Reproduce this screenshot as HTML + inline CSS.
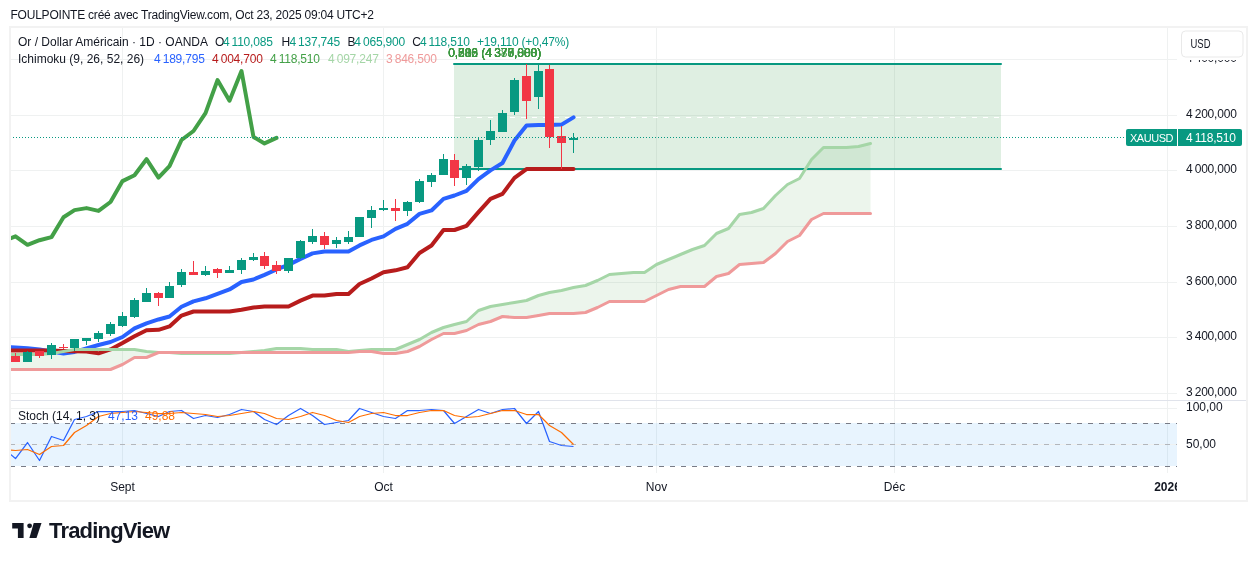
<!DOCTYPE html>
<html><head><meta charset="utf-8"><style>html,body{margin:0;padding:0;background:#fff;width:1257px;height:561px;overflow:hidden}</style></head>
<body><svg width="1257" height="561" viewBox="0 0 1257 561" style="position:absolute;left:0;top:0;will-change:transform"><defs><clipPath id="cm"><rect x="11" y="28" width="1166" height="372"/></clipPath><clipPath id="cs"><rect x="11" y="401" width="1166" height="72"/></clipPath></defs><rect x="10" y="27" width="1237" height="474" fill="none" stroke="#f2f2f2" stroke-width="2"/><rect x="11" y="59" width="1166" height="1" fill="#eff1f1"/><rect x="11" y="115" width="1166" height="1" fill="#eff1f1"/><rect x="11" y="170" width="1166" height="1" fill="#eff1f1"/><rect x="11" y="226" width="1166" height="1" fill="#eff1f1"/><rect x="11" y="282" width="1166" height="1" fill="#eff1f1"/><rect x="11" y="337" width="1166" height="1" fill="#eff1f1"/><rect x="11" y="393" width="1166" height="1" fill="#eff1f1"/><rect x="122" y="28" width="1" height="445" fill="#eff1f1"/><rect x="383" y="28" width="1" height="445" fill="#eff1f1"/><rect x="656" y="28" width="1" height="445" fill="#eff1f1"/><rect x="894" y="28" width="1" height="445" fill="#eff1f1"/><rect x="1167" y="28" width="1" height="445" fill="#eff1f1"/><rect x="11" y="400" width="1235" height="1" fill="#e0e3eb"/><rect x="11" y="408" width="1166" height="1" fill="#eff1f1"/><rect x="11" y="423" width="1166" height="43" fill="#2196f3" fill-opacity="0.1"/><rect x="11" y="444" width="1166" height="1" fill="#eff1f1"/><g clip-path="url(#cs)"><line x1="10" y1="423.5" x2="1177" y2="423.5" stroke="#787b86" stroke-opacity="1" stroke-width="1" stroke-dasharray="5 6"/><line x1="10" y1="444.5" x2="1177" y2="444.5" stroke="#787b86" stroke-opacity="0.5" stroke-width="1" stroke-dasharray="5 6"/><line x1="10" y1="466.5" x2="1177" y2="466.5" stroke="#787b86" stroke-opacity="1" stroke-width="1" stroke-dasharray="5 6"/><polyline points="3.50,448.50 15.50,458.50 27.50,442.50 39.50,460.50 51.50,436.50 63.50,440.50 74.50,419.50 86.50,416.50 98.50,411.50 110.50,411.50 122.50,411.50 134.50,410.50 146.50,413.50 158.50,416.50 169.50,411.50 181.50,410.50 193.50,418.50 205.50,415.50 217.50,417.50 229.50,414.50 241.50,409.50 253.50,411.50 264.50,419.50 276.50,424.50 288.50,415.50 300.50,408.50 312.50,415.50 324.50,424.50 336.50,422.50 348.50,420.50 359.50,408.50 371.50,412.50 383.50,416.50 395.50,418.50 407.50,410.50 419.50,410.50 431.50,409.50 443.50,410.50 454.50,423.50 466.50,416.50 478.50,409.50 490.50,413.50 502.50,409.50 514.50,408.50 526.50,423.50 538.50,411.50 549.50,441.50 561.50,445.50 573.50,446.50" fill="none" stroke="#2962ff" stroke-width="1.25" stroke-linejoin="round"/><polyline points="3.50,449.50 15.50,450.50 27.50,449.50 39.50,454.50 51.50,446.50 63.50,445.50 74.50,432.50 86.50,425.50 98.50,416.50 110.50,413.50 122.50,412.50 134.50,411.50 146.50,412.50 158.50,413.50 169.50,413.50 181.50,412.50 193.50,413.50 205.50,414.50 217.50,416.50 229.50,415.50 241.50,413.50 253.50,411.50 264.50,413.50 276.50,418.50 288.50,419.50 300.50,416.50 312.50,412.50 324.50,415.50 336.50,420.50 348.50,422.50 359.50,416.50 371.50,413.50 383.50,412.50 395.50,415.50 407.50,415.50 419.50,412.50 431.50,410.50 443.50,410.50 454.50,415.50 466.50,417.50 478.50,416.50 490.50,413.50 502.50,410.50 514.50,410.50 526.50,414.50 538.50,414.50 549.50,425.50 561.50,432.50 573.50,444.50" fill="none" stroke="#ff6d00" stroke-width="1.25" stroke-linejoin="round"/></g><g clip-path="url(#cm)"><polygon points="3.50,354.50 15.50,354.50 27.50,354.50 39.50,354.40 51.50,353.50 63.50,351.50 74.50,349.20 86.50,349.20 98.50,349.20 110.50,349.20 122.50,349.20 134.50,349.20 146.50,351.90 158.50,352.00 169.50,352.00 181.50,353.40 193.50,353.50 205.50,353.50 217.50,353.50 229.50,353.30 241.50,352.20 253.50,351.50 264.50,350.40 276.50,348.00 288.50,348.10 300.50,348.60 312.50,349.00 324.50,349.20 336.50,349.50 348.50,351.30 359.50,350.50 371.50,349.80 383.50,349.50 395.50,349.00 407.50,344.60 419.50,339.70 431.50,332.40 443.50,327.30 454.50,324.30 466.50,321.10 478.50,310.70 490.50,306.10 502.50,304.50 514.50,302.40 526.50,300.20 538.50,295.30 549.50,292.50 561.50,290.10 573.50,287.50 585.50,285.80 597.50,280.00 609.50,274.48 621.50,273.50 633.50,272.67 644.50,272.67 656.50,264.68 668.50,259.23 680.50,254.28 692.50,249.60 704.50,245.55 716.50,233.47 728.50,228.00 739.50,214.45 751.50,212.75 763.50,208.40 775.50,195.57 787.50,184.58 799.50,178.43 811.50,159.18 823.50,147.28 834.50,147.03 846.50,147.03 858.50,146.82 870.50,143.23 870.50,213.10 858.50,213.10 846.50,213.10 834.50,213.10 823.50,213.10 811.50,219.00 799.50,235.50 787.50,241.50 775.50,253.50 763.50,262.80 751.50,263.60 739.50,264.20 728.50,273.30 716.50,276.40 704.50,286.50 692.50,286.50 680.50,286.90 668.50,289.20 656.50,295.10 644.50,301.20 633.50,301.20 621.50,301.20 609.50,301.20 597.50,307.00 585.50,312.90 573.50,313.00 561.50,313.00 549.50,313.10 538.50,315.90 526.50,317.30 514.50,317.30 502.50,316.90 490.50,321.00 478.50,324.50 466.50,330.40 454.50,333.80 443.50,333.80 431.50,339.70 419.50,346.10 407.50,351.00 395.50,353.20 383.50,353.20 371.50,351.50 359.50,351.00 348.50,352.20 336.50,352.00 324.50,352.00 312.50,352.00 300.50,352.00 288.50,352.00 276.50,352.00 264.50,352.00 253.50,352.00 241.50,352.00 229.50,352.00 217.50,352.00 205.50,352.00 193.50,352.00 181.50,352.00 169.50,352.00 158.50,352.00 146.50,357.30 134.50,357.50 122.50,364.60 110.50,369.30 98.50,369.30 86.50,369.30 74.50,369.30 63.50,369.30 51.50,369.30 39.50,369.30 27.50,369.30 15.50,369.30 3.50,369.30" fill="#43a047" fill-opacity="0.1"/><rect x="454" y="64" width="547" height="105" fill="#5faf6e" fill-opacity="0.2"/><line x1="454" y1="64" x2="1001" y2="64" stroke="#089981" stroke-width="2" stroke-linecap="round"/><line x1="454" y1="169" x2="1001" y2="169" stroke="#089981" stroke-width="2" stroke-linecap="round"/><line x1="455" y1="117.5" x2="1001" y2="117.5" stroke="#ffffff" stroke-width="1" stroke-dasharray="5 6"/><polyline points="3.50,241.00 15.50,236.30 27.50,244.80 39.50,240.20 51.50,237.10 63.50,217.20 74.50,210.10 86.50,208.10 98.50,210.90 110.50,202.00 122.50,181.10 134.50,175.20 146.50,159.20 158.50,177.60 169.50,166.10 181.50,140.00 193.50,131.00 205.50,113.10 217.50,80.10 229.50,100.70 241.50,71.00 253.50,137.00 264.50,143.40 276.50,137.93" fill="none" stroke="#43a047" stroke-width="4" stroke-linejoin="round" stroke-linecap="round"/><polyline points="3.50,347.00 15.50,347.50 27.50,348.30 39.50,349.50 51.50,351.50 63.50,353.40 74.50,351.90 86.50,348.40 98.50,345.00 110.50,342.00 122.50,337.00 134.50,328.35 146.50,323.35 158.50,319.45 169.50,316.45 181.50,306.80 193.50,301.35 205.50,298.30 217.50,293.95 229.50,289.45 241.50,282.00 253.50,279.50 264.50,274.85 276.50,269.45 288.50,264.85 300.50,258.85 312.50,253.40 324.50,251.45 336.50,251.45 348.50,251.45 359.50,245.40 371.50,239.95 383.50,236.35 395.50,228.85 407.50,223.80 419.50,213.90 431.50,210.45 443.50,198.90 454.50,195.50 466.50,190.95 478.50,179.05 490.50,170.35 502.50,163.00 514.50,140.50 526.50,125.50 538.50,125.00 549.50,125.00 561.50,124.60 573.50,117.40" fill="none" stroke="#2962ff" stroke-width="4" stroke-linejoin="round" stroke-linecap="round"/><polyline points="3.50,350.40 15.50,350.40 27.50,350.40 39.50,350.40 51.50,350.60 63.50,351.00 74.50,351.20 86.50,351.40 98.50,353.30 110.50,349.40 122.50,343.00 134.50,336.20 146.50,330.30 158.50,329.80 169.50,326.40 181.50,315.60 193.50,311.50 205.50,311.50 217.50,311.50 229.50,311.50 241.50,309.70 253.50,307.50 264.50,306.50 276.50,306.50 288.50,306.50 300.50,300.60 312.50,295.55 324.50,295.55 336.50,293.90 348.50,293.90 359.50,283.95 371.50,278.50 383.50,272.20 395.50,270.35 407.50,267.30 419.50,253.05 431.50,245.55 443.50,230.00 454.50,230.00 466.50,225.85 478.50,212.10 490.50,198.80 502.50,193.85 514.50,177.85 526.50,169.05 538.50,169.05 549.50,169.05 561.50,169.05 573.50,169.05" fill="none" stroke="#b71c1c" stroke-width="4" stroke-linejoin="round" stroke-linecap="round"/><polyline points="3.50,354.50 15.50,354.50 27.50,354.50 39.50,354.50 51.50,353.50 63.50,351.50 74.50,349.50 86.50,349.50 98.50,349.50 110.50,349.50 122.50,349.50 134.50,349.50 146.50,351.50 158.50,352.50 169.50,352.50 181.50,353.50 193.50,353.50 205.50,353.50 217.50,353.50 229.50,353.50 241.50,352.50 253.50,351.50 264.50,350.50 276.50,348.50 288.50,348.50 300.50,348.50 312.50,349.50 324.50,349.50 336.50,349.50 348.50,351.50 359.50,350.50 371.50,349.50 383.50,349.50 395.50,349.50 407.50,344.50 419.50,339.50 431.50,332.50 443.50,327.50 454.50,324.50 466.50,321.50 478.50,310.50 490.50,306.50 502.50,304.50 514.50,302.50 526.50,300.50 538.50,295.50 549.50,292.50 561.50,290.50 573.50,287.50 585.50,285.50 597.50,280.50 609.50,274.50 621.50,273.50 633.50,272.50 644.50,272.50 656.50,264.50 668.50,259.50 680.50,254.50 692.50,249.50 704.50,245.50 716.50,233.50 728.50,228.50 739.50,214.50 751.50,212.50 763.50,208.50 775.50,195.50 787.50,184.50 799.50,178.50 811.50,159.50 823.50,147.50 834.50,147.50 846.50,147.50 858.50,146.50 870.50,143.50" fill="none" stroke="#a5d6a7" stroke-width="3" stroke-linejoin="round" stroke-linecap="round"/><polyline points="3.50,369.50 15.50,369.50 27.50,369.50 39.50,369.50 51.50,369.50 63.50,369.50 74.50,369.50 86.50,369.50 98.50,369.50 110.50,369.50 122.50,364.50 134.50,357.50 146.50,357.50 158.50,352.50 169.50,352.50 181.50,352.50 193.50,352.50 205.50,352.50 217.50,352.50 229.50,352.50 241.50,352.50 253.50,352.50 264.50,352.50 276.50,352.50 288.50,352.50 300.50,352.50 312.50,352.50 324.50,352.50 336.50,352.50 348.50,352.50 359.50,351.50 371.50,351.50 383.50,353.50 395.50,353.50 407.50,351.50 419.50,346.50 431.50,339.50 443.50,333.50 454.50,333.50 466.50,330.50 478.50,324.50 490.50,321.50 502.50,316.50 514.50,317.50 526.50,317.50 538.50,315.50 549.50,313.50 561.50,313.50 573.50,313.50 585.50,312.50 597.50,307.50 609.50,301.50 621.50,301.50 633.50,301.50 644.50,301.50 656.50,295.50 668.50,289.50 680.50,286.50 692.50,286.50 704.50,286.50 716.50,276.50 728.50,273.50 739.50,264.50 751.50,263.50 763.50,262.50 775.50,253.50 787.50,241.50 799.50,235.50 811.50,219.50 823.50,213.50 834.50,213.50 846.50,213.50 858.50,213.50 870.50,213.50" fill="none" stroke="#ef9a9a" stroke-width="3" stroke-linejoin="round" stroke-linecap="round"/><rect x="15" y="353" width="1" height="9" fill="#f23645"/><rect x="11" y="356" width="9" height="6" fill="#f23645"/><rect x="27" y="351" width="1" height="11" fill="#089981"/><rect x="23" y="352" width="9" height="10" fill="#089981"/><rect x="39" y="351" width="1" height="7" fill="#f23645"/><rect x="35" y="351" width="9" height="5" fill="#f23645"/><rect x="51" y="343" width="1" height="16" fill="#089981"/><rect x="47" y="345" width="9" height="10" fill="#089981"/><rect x="63" y="344" width="1" height="5" fill="#f23645"/><rect x="59" y="347" width="9" height="1" fill="#f23645"/><rect x="74" y="339" width="1" height="12" fill="#089981"/><rect x="70" y="339" width="9" height="9" fill="#089981"/><rect x="86" y="338" width="1" height="7" fill="#089981"/><rect x="82" y="338" width="9" height="3" fill="#089981"/><rect x="98" y="331" width="1" height="11" fill="#089981"/><rect x="94" y="333" width="9" height="6" fill="#089981"/><rect x="110" y="322" width="1" height="14" fill="#089981"/><rect x="106" y="324" width="9" height="10" fill="#089981"/><rect x="122" y="312" width="1" height="15" fill="#089981"/><rect x="118" y="316" width="9" height="10" fill="#089981"/><rect x="134" y="298" width="1" height="20" fill="#089981"/><rect x="130" y="300" width="9" height="17" fill="#089981"/><rect x="146" y="288" width="1" height="14" fill="#089981"/><rect x="142" y="293" width="9" height="9" fill="#089981"/><rect x="158" y="292" width="1" height="14" fill="#f23645"/><rect x="154" y="293" width="9" height="5" fill="#f23645"/><rect x="169" y="282" width="1" height="16" fill="#089981"/><rect x="165" y="286" width="9" height="12" fill="#089981"/><rect x="181" y="269" width="1" height="18" fill="#089981"/><rect x="177" y="272" width="9" height="13" fill="#089981"/><rect x="193" y="261" width="1" height="14" fill="#f23645"/><rect x="189" y="272" width="9" height="3" fill="#f23645"/><rect x="205" y="266" width="1" height="10" fill="#089981"/><rect x="201" y="271" width="9" height="4" fill="#089981"/><rect x="217" y="268" width="1" height="10" fill="#f23645"/><rect x="213" y="269" width="9" height="4" fill="#f23645"/><rect x="229" y="266" width="1" height="7" fill="#089981"/><rect x="225" y="270" width="9" height="3" fill="#089981"/><rect x="241" y="258" width="1" height="16" fill="#089981"/><rect x="237" y="260" width="9" height="10" fill="#089981"/><rect x="253" y="253" width="1" height="8" fill="#089981"/><rect x="249" y="257" width="9" height="3" fill="#089981"/><rect x="264" y="252" width="1" height="17" fill="#f23645"/><rect x="260" y="256" width="9" height="10" fill="#f23645"/><rect x="276" y="261" width="1" height="13" fill="#f23645"/><rect x="272" y="265" width="9" height="6" fill="#f23645"/><rect x="288" y="258" width="1" height="15" fill="#089981"/><rect x="284" y="258" width="9" height="13" fill="#089981"/><rect x="300" y="240" width="1" height="19" fill="#089981"/><rect x="296" y="241" width="9" height="17" fill="#089981"/><rect x="312" y="229" width="1" height="15" fill="#089981"/><rect x="308" y="236" width="9" height="6" fill="#089981"/><rect x="324" y="232" width="1" height="17" fill="#f23645"/><rect x="320" y="236" width="9" height="9" fill="#f23645"/><rect x="336" y="237" width="1" height="11" fill="#089981"/><rect x="332" y="240" width="9" height="4" fill="#089981"/><rect x="348" y="231" width="1" height="13" fill="#089981"/><rect x="344" y="237" width="9" height="5" fill="#089981"/><rect x="359" y="217" width="1" height="20" fill="#089981"/><rect x="355" y="217" width="9" height="20" fill="#089981"/><rect x="371" y="206" width="1" height="22" fill="#089981"/><rect x="367" y="210" width="9" height="8" fill="#089981"/><rect x="383" y="200" width="1" height="11" fill="#089981"/><rect x="379" y="208" width="9" height="2" fill="#089981"/><rect x="395" y="199" width="1" height="22" fill="#f23645"/><rect x="391" y="208" width="9" height="3" fill="#f23645"/><rect x="407" y="201" width="1" height="15" fill="#089981"/><rect x="403" y="202" width="9" height="9" fill="#089981"/><rect x="419" y="179" width="1" height="24" fill="#089981"/><rect x="415" y="181" width="9" height="21" fill="#089981"/><rect x="431" y="173" width="1" height="14" fill="#089981"/><rect x="427" y="175" width="9" height="7" fill="#089981"/><rect x="443" y="154" width="1" height="21" fill="#089981"/><rect x="439" y="159" width="9" height="16" fill="#089981"/><rect x="454" y="154" width="1" height="32" fill="#f23645"/><rect x="450" y="160" width="9" height="18" fill="#f23645"/><rect x="466" y="164" width="1" height="21" fill="#089981"/><rect x="462" y="166" width="9" height="12" fill="#089981"/><rect x="478" y="137" width="1" height="34" fill="#089981"/><rect x="474" y="140" width="9" height="27" fill="#089981"/><rect x="490" y="120" width="1" height="25" fill="#089981"/><rect x="486" y="131" width="9" height="9" fill="#089981"/><rect x="502" y="110" width="1" height="22" fill="#089981"/><rect x="498" y="113" width="9" height="19" fill="#089981"/><rect x="514" y="78" width="1" height="37" fill="#089981"/><rect x="510" y="80" width="9" height="32" fill="#089981"/><rect x="526" y="64" width="1" height="55" fill="#f23645"/><rect x="522" y="76" width="9" height="25" fill="#f23645"/><rect x="538" y="65" width="1" height="44" fill="#089981"/><rect x="534" y="71" width="9" height="26" fill="#089981"/><rect x="549" y="65" width="1" height="83" fill="#f23645"/><rect x="545" y="69" width="9" height="68" fill="#f23645"/><rect x="561" y="126" width="1" height="43" fill="#f23645"/><rect x="557" y="136" width="9" height="7" fill="#f23645"/><rect x="573" y="133" width="1" height="20" fill="#089981"/><rect x="569" y="138" width="9" height="2" fill="#089981"/><line x1="10" y1="137.5" x2="1126" y2="137.5" stroke="#089981" stroke-width="1" stroke-dasharray="1 2"/></g><text x="18" y="45.5" fill="#131722" font-size="12" font-weight="normal" text-anchor="start" letter-spacing="0" font-family='"Liberation Sans", sans-serif'>Or / Dollar Américain · 1D · OANDA</text><text x="215" y="45.5" fill="#131722" font-size="12" font-weight="normal" text-anchor="start" letter-spacing="0" font-family='"Liberation Sans", sans-serif'>O</text><text x="222.9" y="45.5" fill="#089981" font-size="12" font-weight="normal" text-anchor="start" letter-spacing="-0.2" font-family='"Liberation Sans", sans-serif'>4 110,085</text><text x="281.5" y="45.5" fill="#131722" font-size="12" font-weight="normal" text-anchor="start" letter-spacing="0" font-family='"Liberation Sans", sans-serif'>H</text><text x="289.4" y="45.5" fill="#089981" font-size="12" font-weight="normal" text-anchor="start" letter-spacing="-0.2" font-family='"Liberation Sans", sans-serif'>4 137,745</text><text x="347.5" y="45.5" fill="#131722" font-size="12" font-weight="normal" text-anchor="start" letter-spacing="0" font-family='"Liberation Sans", sans-serif'>B</text><text x="354.3" y="45.5" fill="#089981" font-size="12" font-weight="normal" text-anchor="start" letter-spacing="-0.2" font-family='"Liberation Sans", sans-serif'>4 065,900</text><text x="412.2" y="45.5" fill="#131722" font-size="12" font-weight="normal" text-anchor="start" letter-spacing="0" font-family='"Liberation Sans", sans-serif'>C</text><text x="419.9" y="45.5" fill="#089981" font-size="12" font-weight="normal" text-anchor="start" letter-spacing="-0.2" font-family='"Liberation Sans", sans-serif'>4 118,510</text><text x="477" y="45.5" fill="#089981" font-size="12" font-weight="normal" text-anchor="start" letter-spacing="-0.2" font-family='"Liberation Sans", sans-serif'>+19,110 (+0,47%)</text><text x="18" y="62.5" fill="#131722" font-size="12" font-weight="normal" text-anchor="start" letter-spacing="0" font-family='"Liberation Sans", sans-serif'>Ichimoku (9, 26, 52, 26)</text><text x="154" y="62.5" fill="#2962ff" font-size="12" font-weight="normal" text-anchor="start" letter-spacing="-0.2" font-family='"Liberation Sans", sans-serif'>4 189,795</text><text x="212" y="62.5" fill="#b71c1c" font-size="12" font-weight="normal" text-anchor="start" letter-spacing="-0.2" font-family='"Liberation Sans", sans-serif'>4 004,700</text><text x="270" y="62.5" fill="#43a047" font-size="12" font-weight="normal" text-anchor="start" letter-spacing="-0.2" font-family='"Liberation Sans", sans-serif'>4 118,510</text><text x="328" y="62.5" fill="#a5d6a7" font-size="12" font-weight="normal" text-anchor="start" letter-spacing="-0.2" font-family='"Liberation Sans", sans-serif'>4 097,247</text><text x="386" y="62.5" fill="#ef9a9a" font-size="12" font-weight="normal" text-anchor="start" letter-spacing="-0.2" font-family='"Liberation Sans", sans-serif'>3 846,500</text><text x="448.2" y="57" fill="#3d9841" font-size="12" font-weight="normal" text-anchor="start" letter-spacing="-0.05" font-family='"Liberation Sans", sans-serif'>0,236 (4 377,000)</text><text x="448.2" y="57" fill="#3d9841" font-size="12" font-weight="normal" text-anchor="start" letter-spacing="-0.05" font-family='"Liberation Sans", sans-serif'>0,382 (4 380,888)</text><text x="448.2" y="57" fill="#3d9841" font-size="12" font-weight="normal" text-anchor="start" letter-spacing="-0.05" font-family='"Liberation Sans", sans-serif'>0,500 (4 378,000)</text><text x="448.2" y="57" fill="#3d9841" font-size="12" font-weight="normal" text-anchor="start" letter-spacing="-0.05" font-family='"Liberation Sans", sans-serif'>0,618 (4 377,880)</text><text x="448.2" y="57" fill="#3d9841" font-size="12" font-weight="normal" text-anchor="start" letter-spacing="-0.05" font-family='"Liberation Sans", sans-serif'>0,786 (4 370,808)</text><text x="448.2" y="57" fill="#3d9841" font-size="12" font-weight="normal" text-anchor="start" letter-spacing="-0.05" font-family='"Liberation Sans", sans-serif'>0,886 (4 376,000)</text><text x="18" y="419.5" fill="#131722" font-size="12" font-weight="normal" text-anchor="start" letter-spacing="0" font-family='"Liberation Sans", sans-serif'>Stoch (14, 1, 3)</text><text x="108" y="419.5" fill="#2962ff" font-size="12" font-weight="normal" text-anchor="start" letter-spacing="0" font-family='"Liberation Sans", sans-serif'>47,13</text><text x="145" y="419.5" fill="#ff6d00" font-size="12" font-weight="normal" text-anchor="start" letter-spacing="0" font-family='"Liberation Sans", sans-serif'>49,88</text><text x="1186" y="118.2" fill="#131722" font-size="12" font-weight="normal" text-anchor="start" letter-spacing="-0.2" font-family='"Liberation Sans", sans-serif'>4 200,000</text><text x="1186" y="173.2" fill="#131722" font-size="12" font-weight="normal" text-anchor="start" letter-spacing="-0.2" font-family='"Liberation Sans", sans-serif'>4 000,000</text><text x="1186" y="229.2" fill="#131722" font-size="12" font-weight="normal" text-anchor="start" letter-spacing="-0.2" font-family='"Liberation Sans", sans-serif'>3 800,000</text><text x="1186" y="285.2" fill="#131722" font-size="12" font-weight="normal" text-anchor="start" letter-spacing="-0.2" font-family='"Liberation Sans", sans-serif'>3 600,000</text><text x="1186" y="340.2" fill="#131722" font-size="12" font-weight="normal" text-anchor="start" letter-spacing="-0.2" font-family='"Liberation Sans", sans-serif'>3 400,000</text><text x="1186" y="396.2" fill="#131722" font-size="12" font-weight="normal" text-anchor="start" letter-spacing="-0.2" font-family='"Liberation Sans", sans-serif'>3 200,000</text><text x="1186" y="410.8" fill="#131722" font-size="12" font-weight="normal" text-anchor="start" letter-spacing="0" font-family='"Liberation Sans", sans-serif'>100,00</text><text x="1186" y="447.7" fill="#131722" font-size="12" font-weight="normal" text-anchor="start" letter-spacing="0" font-family='"Liberation Sans", sans-serif'>50,00</text><rect x="1126" y="129" width="116" height="17" rx="2" fill="#089981"/><rect x="1177" y="129" width="1" height="17" fill="#ffffff"/><text x="1151.5" y="141.8" fill="#ffffff" font-size="11" font-weight="normal" text-anchor="middle" letter-spacing="-0.45" font-family='"Liberation Sans", sans-serif'>XAUUSD</text><text x="1186" y="142" fill="#ffffff" font-size="12" font-weight="normal" text-anchor="start" letter-spacing="-0.2" font-family='"Liberation Sans", sans-serif'>4 118,510</text><text x="1186" y="62.3" fill="#131722" font-size="12" font-weight="normal" text-anchor="start" letter-spacing="-0.2" font-family='"Liberation Sans", sans-serif'>4 400,000</text><rect x="1178" y="28" width="68" height="32" fill="#ffffff"/><rect x="1181.5" y="31" width="61.5" height="26" rx="4" fill="#ffffff" stroke="#e9e9e9" stroke-width="1"/><text x="1190.5" y="47.8" fill="#131722" font-size="12" textLength="20" lengthAdjust="spacingAndGlyphs" font-family='"Liberation Sans", sans-serif'>USD</text><text x="122.5" y="491" fill="#131722" font-size="12" font-weight="normal" text-anchor="middle" letter-spacing="0" font-family='"Liberation Sans", sans-serif'>Sept</text><text x="383.5" y="491" fill="#131722" font-size="12" font-weight="normal" text-anchor="middle" letter-spacing="0" font-family='"Liberation Sans", sans-serif'>Oct</text><text x="656.5" y="491" fill="#131722" font-size="12" font-weight="normal" text-anchor="middle" letter-spacing="0" font-family='"Liberation Sans", sans-serif'>Nov</text><text x="894.5" y="491" fill="#131722" font-size="12" font-weight="normal" text-anchor="middle" letter-spacing="0" font-family='"Liberation Sans", sans-serif'>Déc</text><clipPath id="cta"><rect x="11" y="474" width="1166" height="26"/></clipPath><g clip-path="url(#cta)"><text x="1167.5" y="491" fill="#131722" font-size="12" font-weight="bold" text-anchor="middle" letter-spacing="0" font-family='"Liberation Sans", sans-serif'>2026</text></g><text x="10.5" y="18.5" fill="#131722" font-size="12" font-weight="normal" text-anchor="start" letter-spacing="-0.22" font-family='"Liberation Sans", sans-serif'>FOULPOINTE créé avec TradingView.com, Oct 23, 2025 09:04 UTC+2</text><path d="M12.2 522.9 H23.6 V537.9 H17.9 V528.6 H12.2 Z" fill="#131722"/><circle cx="29.6" cy="525.8" r="2.4" fill="#131722"/><path d="M33.7 522.9 H41.5 L36.5 537.9 H29.4 Z" fill="#131722"/><text x="49" y="537.9" fill="#131722" font-size="22" font-weight="bold" text-anchor="start" letter-spacing="-0.8" font-family='"Liberation Sans", sans-serif'>TradingView</text></svg></body></html>
